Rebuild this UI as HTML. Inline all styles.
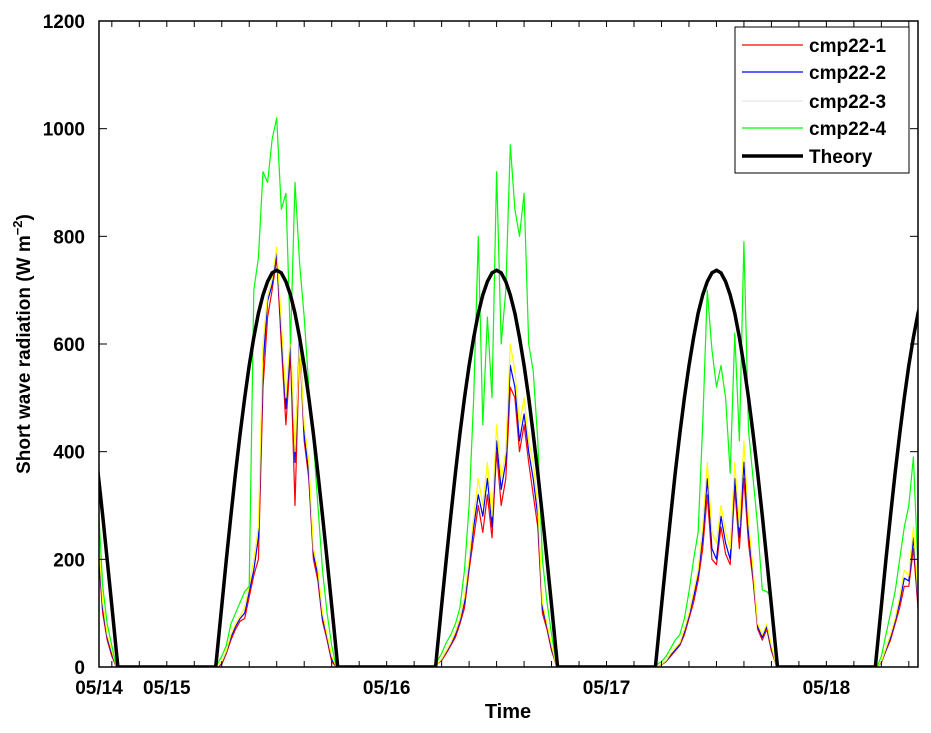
<!DOCTYPE html>
<html><head><meta charset="utf-8">
<style>
body{margin:0;background:#fff;}
svg text{font-family:"Liberation Sans",Arial,sans-serif;font-weight:bold;fill:#000;}
</style></head>
<body>
<svg id="chart" width="931" height="728" xmlns="http://www.w3.org/2000/svg">
<defs><clipPath id="plotclip"><rect x="99" y="21" width="819" height="646"/></clipPath></defs>
<rect x="0" y="0" width="931" height="728" fill="#fff"/>
<g id="series" clip-path="url(#plotclip)"></g>
<rect x="99" y="21" width="819" height="646" fill="none" stroke="#000" stroke-width="1.5"/>
<g id="axes"></g>
<text x="508" y="718" font-size="20" text-anchor="middle">Time</text>
<text transform="translate(30,344) rotate(-90)" font-size="19" text-anchor="middle">Short wave radiation (W m<tspan dy="-8" font-size="13">−2</tspan><tspan dy="8">)</tspan></text>
<g id="legend">
<rect x="735" y="27" width="174" height="146" fill="#fff" stroke="#000" stroke-width="1"/>
</g>
</svg>
<script>
// ---- data ----
const yTicks = [0,200,400,600,800,1000,1200];
const xTickHours = [-7.4,0,24,48,72];
const xTickLabels = ["05/14","05/15","05/16","05/17","05/18"];
const segStarts = [-7.5,5.5,29.5,53.5,77.5];
const cmp4 = [
 [310,150,80,40,0],
 [5,20,40,80,100,120,140,150,700,760,920,900,980,1020,850,880,600,900,750,650,520,420,300,180,100,40,0],
 [10,25,45,60,80,110,180,300,500,800,450,650,500,920,600,700,970,850,800,880,600,550,420,200,120,60,10],
 [5,10,20,35,50,60,90,140,200,250,450,700,590,520,560,500,360,620,420,790,440,350,260,143,140,130,20],
 [0,20,60,100,140,200,260,300,390,180]];
const cmp3 = [
 [250,120,60,30,0],
 [0,10,30,60,80,95,110,150,200,260,600,690,720,780,640,500,620,400,600,450,380,220,180,100,60,20,0],
 [5,15,30,45,65,90,130,200,280,350,300,380,280,450,350,400,600,550,450,500,420,380,300,120,80,40,5],
 [2,5,12,25,35,45,70,100,140,180,260,380,250,230,300,250,220,380,260,420,270,180,80,60,80,40,5],
 [0,10,35,60,90,130,180,170,260,130]];
const cmp2 = [
 [230,110,55,25,0],
 [0,8,28,55,75,90,100,140,180,240,560,680,710,770,620,480,600,380,620,430,360,210,170,90,55,15,0],
 [5,14,28,42,60,85,120,190,260,320,280,350,260,420,330,380,560,520,420,470,400,350,280,110,75,35,5],
 [2,5,11,22,32,42,65,95,130,170,240,350,220,200,280,230,200,350,240,380,250,170,75,55,75,35,5],
 [0,9,32,55,85,120,165,160,240,120]];
const cmp1 = [
 [220,100,50,20,0],
 [0,5,25,50,70,85,90,130,170,200,520,650,700,760,600,450,580,300,600,420,350,200,160,85,50,10,0],
 [5,12,25,40,55,80,110,180,240,300,250,320,240,400,300,350,520,500,400,450,380,320,260,100,70,30,5],
 [2,4,10,20,30,40,60,90,120,160,220,320,200,190,260,210,190,330,220,350,230,160,70,50,70,30,5],
 [0,8,30,50,80,110,150,150,220,110]];
const noonHours = [-12,12,36,60,84];
const archOffsets = [-6.66,-6.5,-6,-5.5,-5,-4.5,-4,-3.5,-3,-2.5,-2,-1.5,-1,-0.5,0,0.5,1,1.5,2,2.5,3,3.5,4,4.5,5,5.5,6,6.5,6.66];
const archValues = [0,28,114,199,281,360,433,500,560,612,657,691,716,732,737,732,716,691,657,612,560,500,433,360,281,199,114,28,0];
const seriesNames = ["cmp22-1","cmp22-2","cmp22-3","cmp22-4","Theory"];

// ---- axes ----
const X0=99,X1=918,Y0=667,Y1=21,H0=-7.4,H1=82.0,V0=0,V1=1200;
function xs(h){return X0+(h-H0)/(H1-H0)*(X1-X0);}
function ys(v){return Y0-(v-V0)/(V1-V0)*(Y0-Y1);}
const NS="http://www.w3.org/2000/svg";
const axes=document.getElementById('axes');
const series=document.getElementById('series');
function mk(tag,attrs,parent){const e=document.createElementNS(NS,tag);for(const k in attrs)e.setAttribute(k,attrs[k]);parent.appendChild(e);return e;}

yTicks.forEach(v=>{
  const y=ys(v);
  const t=mk('line',{x1:X0,x2:X0+8,y1:y,y2:y,stroke:'#000','stroke-width':1},axes);
  
  
  const t2=mk('line',{x1:X1-8,x2:X1,y1:y,y2:y,stroke:'#000','stroke-width':1},axes);
  
  
  const l=mk('text',{x:X0-14,y:y+7,'font-size':19,'text-anchor':'end'},axes);
  l.textContent=v;
  
  
});
for(let h=-6;h<=H1;h+=3){
  const x=xs(h);
  const t=mk('line',{x1:x,x2:x,y1:Y0,y2:Y0-6,stroke:'#000','stroke-width':1},axes);
  
  
  const t2=mk('line',{x1:x,x2:x,y1:Y1,y2:Y1+6,stroke:'#000','stroke-width':1},axes);
  
  
}
xTickHours.forEach((h,i)=>{
  const l=mk('text',{x:xs(h),y:694,'font-size':19,'text-anchor':'middle'},axes);
  l.textContent=xTickLabels[i];
  
  
});

// ---- series ----
function seriesPath(arr){
  let d='';
  arr.forEach((seg,si)=>{
    const s=segStarts[si];
    if(si>0){
      d+='L'+xs(s-0.5).toFixed(1)+','+ys(0).toFixed(1);
    }
    seg.forEach((v,i)=>{const h=s+i*0.5;d+=(d?'L':'M')+xs(h).toFixed(1)+','+ys(v).toFixed(1);});
    d+='L'+xs(s+seg.length*0.5-0.5+0.3).toFixed(1)+','+ys(0).toFixed(1);
  });
  return d;
}
const defs=[[cmp1,'#ff0000','series-cmp22-1'],[cmp2,'#0000ff','series-cmp22-2'],[cmp3,'#ffff00','series-cmp22-3'],[cmp4,'#00ff00','series-cmp22-4']];
defs.forEach(([arr,c,n])=>{
  const p=mk('path',{d:seriesPath(arr),fill:'none',stroke:c,'stroke-width':1.2,'stroke-linejoin':'round'},series);
  
  
});
// theory
let td='M'+xs(H0-1)+','+ys(0);
noonHours.forEach(n=>{
  archOffsets.forEach((o,i)=>{td+='L'+xs(n+o).toFixed(1)+','+ys(archValues[i]).toFixed(1);});
});
td+='L'+xs(H1+5)+','+ys(0);
const tp=mk('path',{d:td,fill:'none',stroke:'#000','stroke-width':3.5,'stroke-linejoin':'round'},series);



// ---- legend ----
const leg=document.getElementById('legend');
const legColors=['#ff0000','#0000ff','#e8e8e8','#00ff00','#000'];
const legY=[45,72,101,128,156];
seriesNames.forEach((n,i)=>{
  const g=mk('g',{},leg);
  
  
  mk('line',{x1:742,x2:803,y1:legY[i],y2:legY[i],stroke:legColors[i],'stroke-width':i==4?3.5:1.2},g);
  const t=mk('text',{x:809,y:legY[i]+7,'font-size':19},g);
  t.textContent=n;
});
</script>
</body></html>
